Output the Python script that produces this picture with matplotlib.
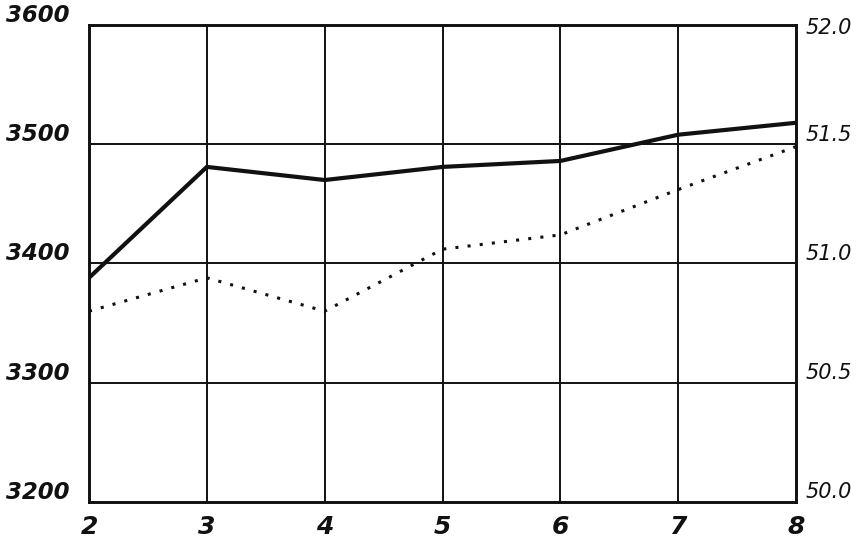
import matplotlib
matplotlib.use("Agg")
import matplotlib.pyplot as plt

# Data
x_vals = [2, 3, 4, 5, 6, 7, 8]
solid_vals = [3388, 3481, 3470, 3481, 3486, 3508, 3518]     # left axis
dotted_vals = [50.80, 50.94, 50.80, 51.06, 51.12, 51.31, 51.49]  # right axis

left_ticks = [3200, 3300, 3400, 3500, 3600]
left_labels = ["3200", "3300", "3400", "3500", "3600"]
right_ticks = [50.0, 50.5, 51.0, 51.5, 52.0]
right_labels = ["50.0", "50.5", "51.0", "51.5", "52.0"]
x_labels = ["2", "3", "4", "5", "6", "7", "8"]

fig = plt.figure(figsize=(8.65, 5.49), dpi=100)
ax = fig.add_axes([89 / 865, 47 / 549, (796 - 89) / 865, (502 - 25) / 549])
ax2 = ax.twinx()

ax.set_xlim(2, 8)
ax.set_ylim(3200, 3600)
ax2.set_ylim(50.0, 52.0)

ink = "#111111"

# grid lines
for xv in x_vals[1:-1]:
    ax.axvline(xv, color=ink, lw=1.4, zorder=1)
for yv in left_ticks[1:-1]:
    ax.axhline(yv, color=ink, lw=1.4, zorder=1)

for a in (ax, ax2):
    for s in a.spines.values():
        s.set_color(ink)
        s.set_linewidth(1.9)
    a.set_xticks([])
    a.set_yticks([])

ax.plot(x_vals, solid_vals, color=ink, lw=3.0, solid_joinstyle="round", zorder=3)
ax2.plot(x_vals, dotted_vals, color=ink, lw=2.2, linestyle=(0, (1, 3)), zorder=3)

for v, lab in zip(left_ticks, left_labels):
    ax.annotate(lab, xy=(0, v), xycoords=("axes fraction", "data"),
                xytext=(-14, 7), textcoords="offset points",
                ha="right", va="center", fontsize=16.5, style="italic",
                fontweight="semibold", color=ink, family="DejaVu Sans")

for v, lab in zip(right_ticks, right_labels):
    dy = -2 if v == right_ticks[-1] else 7
    ax2.annotate(lab, xy=(1, v), xycoords=("axes fraction", "data"),
                 xytext=(7, dy), textcoords="offset points",
                 ha="left", va="center", fontsize=15, style="italic",
                 color=ink, family="DejaVu Sans")

for v, lab in zip(x_vals, x_labels):
    ax.annotate(lab, xy=(v, 0), xycoords=("data", "axes fraction"),
                xytext=(0, -18), textcoords="offset points",
                ha="center", va="center", fontsize=18, style="italic",
                fontweight="semibold", color=ink, family="DejaVu Sans")

fig.savefig("out.png", dpi=100, facecolor="white")
